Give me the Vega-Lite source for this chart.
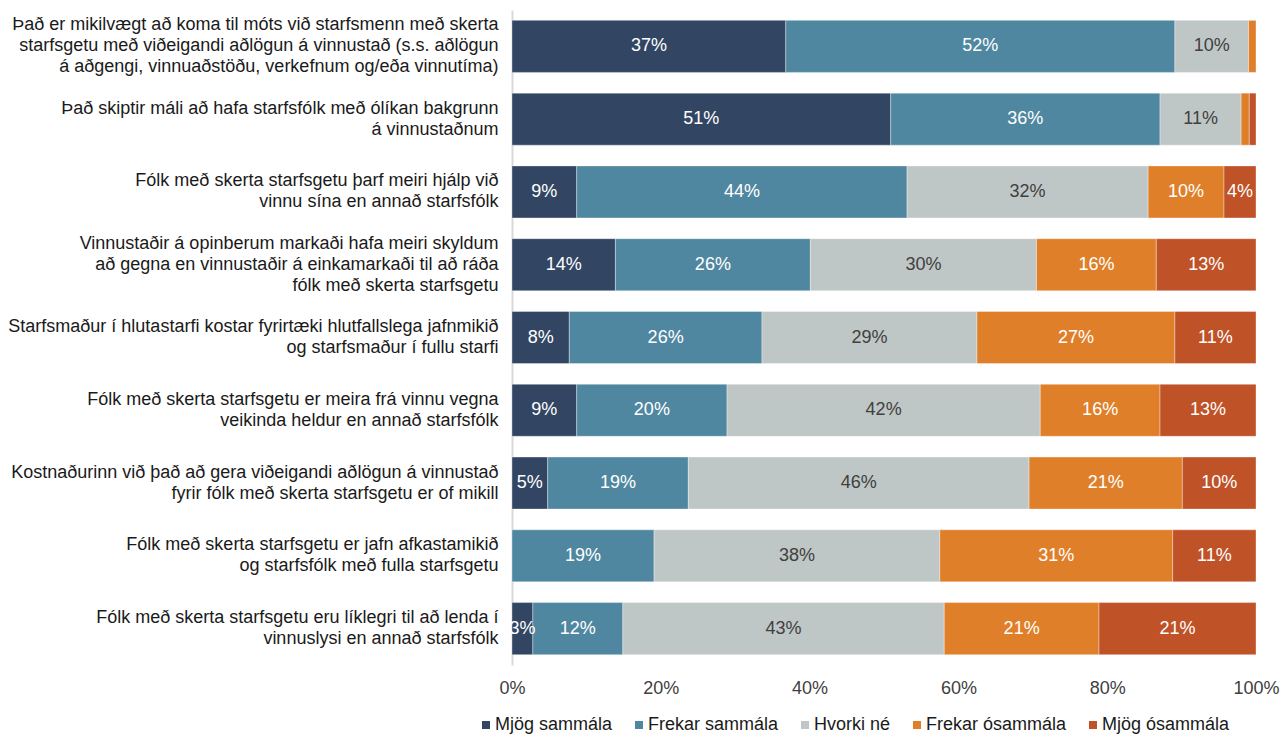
{
  "$schema": "https://vega.github.io/schema/vega-lite/v6.json",
  "autosize": {"type": "none"},
  "width": 744,
  "height": 655,
  "padding": {"left": 512, "top": 10, "right": 25, "bottom": 70},
  "background": "white",
  "config": {
    "view": {"stroke": null},
    "font": "Liberation Sans",
    "text": {"font": "Liberation Sans"}
  },
  "data": {
    "values": [
      {"q": "Það er mikilvægt að koma til móts við starfsmenn með skerta\nstarfsgetu með viðeigandi aðlögun á vinnustað (s.s. aðlögun\ná aðgengi, vinnuaðstöðu, verkefnum og/eða vinnutíma)", "qi": 1, "cat": "Mjög sammála", "ci": 1, "v": 0.368},
      {"q": "Það er mikilvægt að koma til móts við starfsmenn með skerta\nstarfsgetu með viðeigandi aðlögun á vinnustað (s.s. aðlögun\ná aðgengi, vinnuaðstöðu, verkefnum og/eða vinnutíma)", "qi": 1, "cat": "Frekar sammála", "ci": 2, "v": 0.523},
      {"q": "Það er mikilvægt að koma til móts við starfsmenn með skerta\nstarfsgetu með viðeigandi aðlögun á vinnustað (s.s. aðlögun\ná aðgengi, vinnuaðstöðu, verkefnum og/eða vinnutíma)", "qi": 1, "cat": "Hvorki né", "ci": 3, "v": 0.099},
      {"q": "Það er mikilvægt að koma til móts við starfsmenn með skerta\nstarfsgetu með viðeigandi aðlögun á vinnustað (s.s. aðlögun\ná aðgengi, vinnuaðstöðu, verkefnum og/eða vinnutíma)", "qi": 1, "cat": "Frekar ósammála", "ci": 4, "v": 0.010},

      {"q": "Það skiptir máli að hafa starfsfólk með ólíkan bakgrunn\ná vinnustaðnum", "qi": 2, "cat": "Mjög sammála", "ci": 1, "v": 0.509},
      {"q": "Það skiptir máli að hafa starfsfólk með ólíkan bakgrunn\ná vinnustaðnum", "qi": 2, "cat": "Frekar sammála", "ci": 2, "v": 0.362},
      {"q": "Það skiptir máli að hafa starfsfólk með ólíkan bakgrunn\ná vinnustaðnum", "qi": 2, "cat": "Hvorki né", "ci": 3, "v": 0.109},
      {"q": "Það skiptir máli að hafa starfsfólk með ólíkan bakgrunn\ná vinnustaðnum", "qi": 2, "cat": "Frekar ósammála", "ci": 4, "v": 0.011},
      {"q": "Það skiptir máli að hafa starfsfólk með ólíkan bakgrunn\ná vinnustaðnum", "qi": 2, "cat": "Mjög ósammála", "ci": 5, "v": 0.009},

      {"q": "Fólk með skerta starfsgetu þarf meiri hjálp við\nvinnu sína en annað starfsfólk", "qi": 3, "cat": "Mjög sammála", "ci": 1, "v": 0.087},
      {"q": "Fólk með skerta starfsgetu þarf meiri hjálp við\nvinnu sína en annað starfsfólk", "qi": 3, "cat": "Frekar sammála", "ci": 2, "v": 0.444},
      {"q": "Fólk með skerta starfsgetu þarf meiri hjálp við\nvinnu sína en annað starfsfólk", "qi": 3, "cat": "Hvorki né", "ci": 3, "v": 0.324},
      {"q": "Fólk með skerta starfsgetu þarf meiri hjálp við\nvinnu sína en annað starfsfólk", "qi": 3, "cat": "Frekar ósammála", "ci": 4, "v": 0.102},
      {"q": "Fólk með skerta starfsgetu þarf meiri hjálp við\nvinnu sína en annað starfsfólk", "qi": 3, "cat": "Mjög ósammála", "ci": 5, "v": 0.043},

      {"q": "Vinnustaðir á opinberum markaði hafa meiri skyldum\nað gegna en vinnustaðir á einkamarkaði til að ráða\nfólk með skerta starfsgetu", "qi": 4, "cat": "Mjög sammála", "ci": 1, "v": 0.139},
      {"q": "Vinnustaðir á opinberum markaði hafa meiri skyldum\nað gegna en vinnustaðir á einkamarkaði til að ráða\nfólk með skerta starfsgetu", "qi": 4, "cat": "Frekar sammála", "ci": 2, "v": 0.262},
      {"q": "Vinnustaðir á opinberum markaði hafa meiri skyldum\nað gegna en vinnustaðir á einkamarkaði til að ráða\nfólk með skerta starfsgetu", "qi": 4, "cat": "Hvorki né", "ci": 3, "v": 0.304},
      {"q": "Vinnustaðir á opinberum markaði hafa meiri skyldum\nað gegna en vinnustaðir á einkamarkaði til að ráða\nfólk með skerta starfsgetu", "qi": 4, "cat": "Frekar ósammála", "ci": 4, "v": 0.161},
      {"q": "Vinnustaðir á opinberum markaði hafa meiri skyldum\nað gegna en vinnustaðir á einkamarkaði til að ráða\nfólk með skerta starfsgetu", "qi": 4, "cat": "Mjög ósammála", "ci": 5, "v": 0.134},

      {"q": "Starfsmaður í hlutastarfi kostar fyrirtæki hlutfallslega jafnmikið\nog starfsmaður í fullu starfi", "qi": 5, "cat": "Mjög sammála", "ci": 1, "v": 0.077},
      {"q": "Starfsmaður í hlutastarfi kostar fyrirtæki hlutfallslega jafnmikið\nog starfsmaður í fullu starfi", "qi": 5, "cat": "Frekar sammála", "ci": 2, "v": 0.259},
      {"q": "Starfsmaður í hlutastarfi kostar fyrirtæki hlutfallslega jafnmikið\nog starfsmaður í fullu starfi", "qi": 5, "cat": "Hvorki né", "ci": 3, "v": 0.289},
      {"q": "Starfsmaður í hlutastarfi kostar fyrirtæki hlutfallslega jafnmikið\nog starfsmaður í fullu starfi", "qi": 5, "cat": "Frekar ósammála", "ci": 4, "v": 0.266},
      {"q": "Starfsmaður í hlutastarfi kostar fyrirtæki hlutfallslega jafnmikið\nog starfsmaður í fullu starfi", "qi": 5, "cat": "Mjög ósammála", "ci": 5, "v": 0.109},

      {"q": "Fólk með skerta starfsgetu er meira frá vinnu vegna\nveikinda heldur en annað starfsfólk", "qi": 6, "cat": "Mjög sammála", "ci": 1, "v": 0.087},
      {"q": "Fólk með skerta starfsgetu er meira frá vinnu vegna\nveikinda heldur en annað starfsfólk", "qi": 6, "cat": "Frekar sammála", "ci": 2, "v": 0.202},
      {"q": "Fólk með skerta starfsgetu er meira frá vinnu vegna\nveikinda heldur en annað starfsfólk", "qi": 6, "cat": "Hvorki né", "ci": 3, "v": 0.421},
      {"q": "Fólk með skerta starfsgetu er meira frá vinnu vegna\nveikinda heldur en annað starfsfólk", "qi": 6, "cat": "Frekar ósammála", "ci": 4, "v": 0.161},
      {"q": "Fólk með skerta starfsgetu er meira frá vinnu vegna\nveikinda heldur en annað starfsfólk", "qi": 6, "cat": "Mjög ósammála", "ci": 5, "v": 0.129},

      {"q": "Kostnaðurinn við það að gera viðeigandi aðlögun á vinnustað\nfyrir fólk með skerta starfsgetu er of mikill", "qi": 7, "cat": "Mjög sammála", "ci": 1, "v": 0.048},
      {"q": "Kostnaðurinn við það að gera viðeigandi aðlögun á vinnustað\nfyrir fólk með skerta starfsgetu er of mikill", "qi": 7, "cat": "Frekar sammála", "ci": 2, "v": 0.189},
      {"q": "Kostnaðurinn við það að gera viðeigandi aðlögun á vinnustað\nfyrir fólk með skerta starfsgetu er of mikill", "qi": 7, "cat": "Hvorki né", "ci": 3, "v": 0.458},
      {"q": "Kostnaðurinn við það að gera viðeigandi aðlögun á vinnustað\nfyrir fólk með skerta starfsgetu er of mikill", "qi": 7, "cat": "Frekar ósammála", "ci": 4, "v": 0.206},
      {"q": "Kostnaðurinn við það að gera viðeigandi aðlögun á vinnustað\nfyrir fólk með skerta starfsgetu er of mikill", "qi": 7, "cat": "Mjög ósammála", "ci": 5, "v": 0.099},

      {"q": "Fólk með skerta starfsgetu er jafn afkastamikið\nog starfsfólk með fulla starfsgetu", "qi": 8, "cat": "Frekar sammála", "ci": 2, "v": 0.191},
      {"q": "Fólk með skerta starfsgetu er jafn afkastamikið\nog starfsfólk með fulla starfsgetu", "qi": 8, "cat": "Hvorki né", "ci": 3, "v": 0.384},
      {"q": "Fólk með skerta starfsgetu er jafn afkastamikið\nog starfsfólk með fulla starfsgetu", "qi": 8, "cat": "Frekar ósammála", "ci": 4, "v": 0.313},
      {"q": "Fólk með skerta starfsgetu er jafn afkastamikið\nog starfsfólk með fulla starfsgetu", "qi": 8, "cat": "Mjög ósammála", "ci": 5, "v": 0.112},

      {"q": "Fólk með skerta starfsgetu eru líklegri til að lenda í\nvinnuslysi en annað starfsfólk", "qi": 9, "cat": "Mjög sammála", "ci": 1, "v": 0.028},
      {"q": "Fólk með skerta starfsgetu eru líklegri til að lenda í\nvinnuslysi en annað starfsfólk", "qi": 9, "cat": "Frekar sammála", "ci": 2, "v": 0.121},
      {"q": "Fólk með skerta starfsgetu eru líklegri til að lenda í\nvinnuslysi en annað starfsfólk", "qi": 9, "cat": "Hvorki né", "ci": 3, "v": 0.432},
      {"q": "Fólk með skerta starfsgetu eru líklegri til að lenda í\nvinnuslysi en annað starfsfólk", "qi": 9, "cat": "Frekar ósammála", "ci": 4, "v": 0.208},
      {"q": "Fólk með skerta starfsgetu eru líklegri til að lenda í\nvinnuslysi en annað starfsfólk", "qi": 9, "cat": "Mjög ósammála", "ci": 5, "v": 0.211}
    ]
  },
  "encoding": {
    "y": {
      "field": "q",
      "type": "nominal",
      "sort": {"field": "qi", "op": "min", "order": "ascending"},
      "scale": {"paddingInner": 0.285, "paddingOuter": 0.1425},
      "axis": {
        "title": null,
        "ticks": false,
        "domainColor": "#d9d9d9",
        "domainWidth": 2,
        "labelExpr": "split(datum.label, '\\n')",
        "labelFontSize": 18,
        "labelFont": "Liberation Sans",
        "labelColor": "#1a1a1a",
        "labelLineHeight": 21,
        "labelPadding": 14,
        "labelLimit": 600,
        "labelAlign": "right",
        "labelBaseline": "middle",
        "labelOffset": {
          "condition": [
            {"test": "length(split(datum.value, '\\n')) >= 3", "value": -21},
            {"test": "length(split(datum.value, '\\n')) == 2", "value": -10.5}
          ],
          "value": 0
        }
      }
    }
  },
  "layer": [
    {
      "mark": {"type": "bar", "stroke": "#ffffff", "strokeOpacity": 0.35, "strokeWidth": 1},
      "encoding": {
        "x": {
          "field": "v",
          "type": "quantitative",
          "stack": "zero",
          "scale": {"domain": [0, 1], "nice": false},
          "axis": {
            "title": null,
            "values": [0, 0.2, 0.4, 0.6, 0.8, 1],
            "format": ".0%",
            "grid": false,
            "ticks": false,
            "domain": false,
            "labelFlush": false,
            "labelOverlap": false,
            "labelFontSize": 18,
            "labelFont": "Liberation Sans",
            "labelColor": "#404040",
            "labelPadding": 14
          }
        },
        "order": {"field": "ci", "type": "quantitative", "sort": "ascending"},
        "color": {
          "field": "cat",
          "type": "nominal",
          "scale": {
            "domain": ["Mjög sammála", "Frekar sammála", "Hvorki né", "Frekar ósammála", "Mjög ósammála"],
            "range": ["#324664", "#4f87a1", "#bfc7c6", "#e07f2a", "#c05228"]
          },
          "legend": {
            "title": null,
            "orient": "none",
            "direction": "horizontal",
            "legendX": -35,
            "legendY": 706,
            "padding": 0,
            "symbolType": "square",
            "symbolSize": 64,
            "symbolStrokeWidth": 0,
            "labelFontSize": 18,
            "labelFont": "Liberation Sans",
            "labelColor": "#1a1a1a",
            "labelOffset": 0,
            "columnPadding": 17
          }
        }
      }
    },
    {
      "transform": [{"filter": "datum.v >= 0.025"}],
      "mark": {"type": "text", "fontSize": 18, "font": "Liberation Sans", "align": "center", "baseline": "middle"},
      "encoding": {
        "x": {"field": "v", "type": "quantitative", "stack": "zero", "bandPosition": 0.5},
        "order": {"field": "ci", "type": "quantitative", "sort": "ascending"},
        "text": {"field": "v", "type": "quantitative", "format": ".0%"},
        "color": {
          "condition": {"test": "datum.cat === 'Hvorki né'", "value": "#404040"},
          "value": "#ffffff"
        }
      }
    }
  ]
}
